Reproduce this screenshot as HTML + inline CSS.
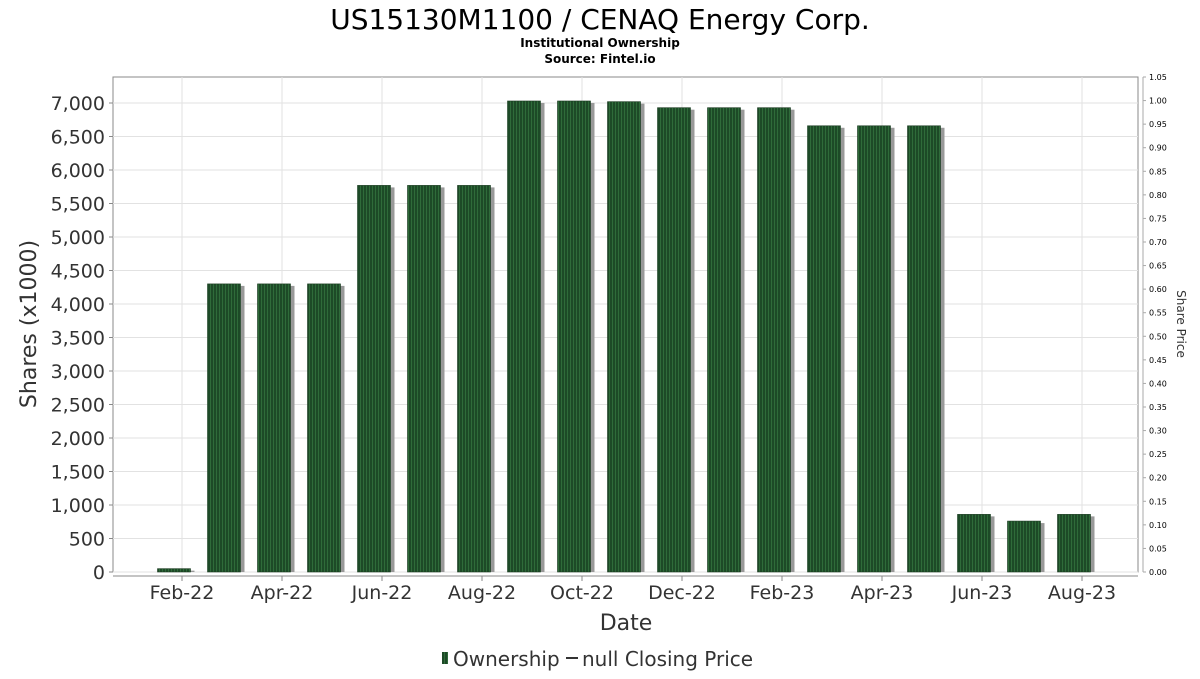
<!DOCTYPE html>
<html><head><meta charset="utf-8"><style>
body{margin:0;background:#fff;width:1200px;height:675px;overflow:hidden;font-family:"DejaVu Sans","Liberation Sans",sans-serif}
</style></head><body>
<svg id="chart" width="1200" height="675" xmlns="http://www.w3.org/2000/svg">
<defs>
<pattern id="stripe" width="3" height="10" patternUnits="userSpaceOnUse">
<rect width="3" height="10" fill="#1d4a27"/><rect width="1" height="10" fill="#2f6b3a"/>
</pattern>
</defs>
<text x="600" y="29" font-size="28" text-anchor="middle" fill="#000">US15130M1100 / CENAQ Energy Corp.</text>
<text x="600" y="47" font-size="12" font-weight="bold" text-anchor="middle">Institutional Ownership</text>
<text x="600" y="63" font-size="12" font-weight="bold" text-anchor="middle">Source: Fintel.io</text>
<g id="grid"></g>
<g id="bars"></g>
<g id="axes"></g>
<text x="626" y="630" font-size="22" text-anchor="middle" fill="#333">Date</text>
<text transform="translate(36,324) rotate(-90)" font-size="22" text-anchor="middle" fill="#333">Shares (x1000)</text>
<text transform="translate(1177,324) rotate(90)" font-size="12" text-anchor="middle" fill="#333">Share Price</text>
<g>
<rect x="442" y="652" width="6" height="12" fill="url(#stripe)"/>
<text x="453" y="666" font-size="20" fill="#333">Ownership</text>
<line x1="566" y1="658" x2="578" y2="658" stroke="#333" stroke-width="2"/>
<text x="582" y="666" font-size="20" fill="#333">null Closing Price</text>
</g>
</svg>
<script>
const months = ["Feb-22","Mar-22","Apr-22","May-22","Jun-22","Jul-22","Aug-22","Sep-22","Oct-22","Nov-22","Dec-22","Jan-23","Feb-23","Mar-23","Apr-23","May-23","Jun-23","Jul-23","Aug-23"];
const ownership = [50,4300,4300,4300,5770,5770,5770,7030,7030,7020,6930,6930,6930,6660,6660,6660,860,760,860];
const yTicks = [0,500,1000,1500,2000,2500,3000,3500,4000,4500,5000,5500,6000,6500,7000];
const priceTicks = [0,0.05,0.1,0.15,0.2,0.25,0.3,0.35,0.4,0.45,0.5,0.55,0.6,0.65,0.7,0.75,0.8,0.85,0.9,0.95,1.0,1.05];
const xLabels = ["Feb-22","Apr-22","Jun-22","Aug-22","Oct-22","Dec-22","Feb-23","Apr-23","Jun-23","Aug-23"];
const NS="http://www.w3.org/2000/svg";
const L=113,R=1138,T=77,B=572,YMAX=7388,PMAX=1.05;
const y=v=>B-(v/YMAX)*(B-T);
const yp=v=>B-(v/PMAX)*(B-T);
const x=i=>174+i*50;
function mk(tag,attrs,parent){const e=document.createElementNS(NS,tag);for(const k in attrs)e.setAttribute(k,attrs[k]);parent.appendChild(e);return e;}
const grid=document.getElementById('grid'),bars=document.getElementById('bars'),axes=document.getElementById('axes');
const bg=mk('rect',{x:L,y:T,width:R-L,height:B-T,fill:'#fff',stroke:'#888','stroke-width':1},grid);


yTicks.forEach(v=>{
  mk('line',{x1:L,x2:R,y1:y(v),y2:y(v),stroke:'#e2e2e2'},grid);
  mk('line',{x1:L-4,x2:L,y1:y(v),y2:y(v),stroke:'#888'},axes);
  const t=mk('text',{x:L-8,y:y(v)+7,'font-size':19,'text-anchor':'end',fill:'#333'},axes);
  t.textContent=v.toLocaleString('en-US');
  
  
});
xLabels.forEach(lbl=>{
  const i=months.indexOf(lbl);const xx=x(i)+8;
  mk('line',{x1:xx,x2:xx,y1:T,y2:B,stroke:'#e2e2e2'},grid);
  mk('line',{x1:xx,x2:xx,y1:576,y2:581,stroke:'#888'},axes);
  const t=mk('text',{x:xx,y:599,'font-size':19,'text-anchor':'middle',fill:'#333'},axes);
  t.textContent=lbl;
  
  
});
mk('line',{x1:L,x2:R,y1:576,y2:576,stroke:'#888'},axes);
mk('line',{x1:1143,x2:1143,y1:T,y2:B,stroke:'#aaa'},axes);
priceTicks.forEach(v=>{
  mk('line',{x1:1143,x2:1146,y1:yp(v),y2:yp(v),stroke:'#aaa'},axes);
  const t=mk('text',{x:1149,y:yp(v)+3,'font-size':8,fill:'#000'},axes);
  t.textContent=v.toFixed(2);
  
  
});
ownership.forEach((v,i)=>{
  const w=33,x0=x(i)-16.5,top=y(v);
  mk('rect',{x:x0+4,y:top+2,width:w,height:B-top-2,fill:'#999'},bars);
  const r=mk('rect',{x:x0,y:top,width:w,height:B-top,fill:'url(#stripe)',stroke:'#1a3a20','stroke-width':0.6},bars);
  
  
});
</script>
</body></html>
